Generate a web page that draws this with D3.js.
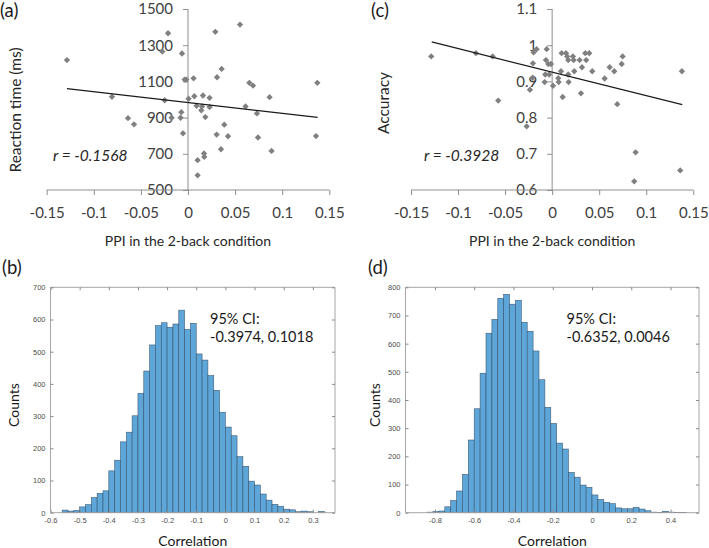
<!DOCTYPE html>
<html><head><meta charset="utf-8">
<script src="https://cdn.jsdelivr.net/npm/d3@7"></script>
<style>
html,body{margin:0;padding:0;background:#fff;}
svg{display:block;}
</style></head>
<body>
<svg id="chart" width="709" height="548"></svg>
<script>
// ---------- DATA ----------
// Panel (a): PPI (2-back) vs reaction time (ms)
const aPPI = [-0.1285,-0.0212,-0.0273,-0.0064,0.0290,0.0552,-0.0807,-0.0637,-0.0573,-0.0248,-0.0174,-0.0079,-0.0071,-0.0053,-0.0036,-0.0018,0.0059,0.0006,0.0067,0.0091,0.0159,0.0141,0.0149,0.0184,0.0229,0.0229,0.0308,0.0357,0.0102,0.0102,0.0170,0.0173,0.0304,0.0385,0.0350,0.0425,0.0611,0.0651,0.0690,0.0732,0.0743,0.0866,0.0887,0.1373,0.1359];
const aRT  = [1218,1366,1265,1254,1374,1414,1015,897,863,996,899,899,930,813,1110,1110,1117,1004,1018,965,1022,940,962,903,1009,958,1123,1169,665,581,702,683,806,861,725,797,962,1092,1077,923,790,1013,716,1092,798];
const aFitX = [-0.1285, 0.1376];
const aFitY = [1060, 901];
const aR = "r = -0.1568";

// Panel (c): PPI (2-back) vs accuracy
const cPPI = [-0.1285,-0.0810,-0.0632,-0.0573,-0.0271,-0.0236,-0.0207,-0.0204,-0.0197,-0.0165,-0.0073,-0.0080,-0.0058,-0.0066,-0.0041,-0.0031,-0.0013,0.0009,0.0065,0.0069,0.0094,0.0101,0.0112,0.0147,0.0160,0.0171,0.0171,0.0175,0.0221,0.0228,0.0235,0.0292,0.0306,0.0317,0.0352,0.0362,0.0394,0.0426,0.0558,0.0611,0.0660,0.0692,0.0739,0.0749,0.0887,0.0872,0.1379,0.1361];
const cAcc = [0.969,0.978,0.969,0.847,0.776,0.877,0.910,0.950,0.980,0.989,0.919,0.898,0.989,0.959,0.948,0.919,0.948,0.888,0.909,0.898,0.928,0.978,0.857,0.978,0.969,0.959,0.919,0.898,0.969,0.959,0.928,0.959,0.867,0.939,0.978,0.959,0.978,0.928,0.908,0.939,0.928,0.837,0.948,0.969,0.704,0.624,0.928,0.654];
const cFitX = [-0.128, 0.1383];
const cFitY = [1.009, 0.836];
const cR = "r = -0.3928";

const scatterXTicks = [-0.15,-0.1,-0.05,0,0.05,0.1,0.15];
const aYTicks = [500,700,900,1100,1300,1500];
const cYTicks = [0.6,0.7,0.8,0.9,1,1.1];

// Panel (b): bootstrap correlation histogram (bin width 0.02 starting at -0.56)
const bBinStart = -0.56, bBinWidth = 0.02;
const bCounts = [8,5,7,18,25,47,60,68,130,163,220,250,301,371,440,521,581,590,576,586,629,569,588,493,474,426,380,312,266,239,174,144,98,86,58,39,26,20,11,9,3,5,3,0,4];
const bXTicks = [-0.6,-0.5,-0.4,-0.3,-0.2,-0.1,0,0.1,0.2,0.3];
const bYTicks = [0,100,200,300,400,500,600,700];
const bCI = ["95% CI:", "-0.3974, 0.1018"];

// Panel (d): bootstrap correlation histogram (bin width 0.03 starting at -0.84)
const dBinStart = -0.84, dBinWidth = 0.03;
const dCounts = [2,4,6,21,43,77,136,258,369,495,637,686,761,775,740,754,676,644,574,472,374,317,247,226,143,126,98,90,63,47,37,32,17,14,14,19,13,7,2,1,5,2,1,1];
const dXTicks = [-0.8,-0.6,-0.4,-0.2,0,0.2,0.4];
const dYTicks = [0,100,200,300,400,500,600,700,800];
const dCI = ["95% CI:", "-0.6352, 0.0046"];

// ---------- DRAW ----------
const svg = d3.select("#chart");
const FONT = "Lato, 'Open Sans', sans-serif";
const MFONT = "'Liberation Sans', Arial, sans-serif";
const fmt = d => (d === 0 ? "0" : String(d));

function scatter(opt){
  const g = svg.append("g");
  const x = d3.scaleLinear().domain([-0.15,0.15]).range(opt.xr);
  const y = d3.scaleLinear().domain(opt.yd).range([190, 9]);
  const x0 = x(0);
  const yAxis = d3.axisLeft(y).tickValues(opt.yTicks).tickSize(5).tickPadding(10).tickFormat(opt.yFmt);
  const ga = g.append("g").attr("transform", `translate(${x0},0)`).call(yAxis);
  ga.select(".domain").attr("stroke","#8f8f8f").attr("d", `M-0,${y(opt.yd[1])}V${y(opt.yd[0])}`);
  ga.selectAll(".tick line").attr("stroke","#8f8f8f");
  ga.selectAll(".tick text").attr("font-family",FONT).attr("font-size",15).attr("fill","#404040");
  const xAxis = d3.axisBottom(x).tickValues(scatterXTicks).tickSize(5).tickPadding(12).tickFormat(fmt);
  const gx = g.append("g").attr("transform", `translate(0,190)`).call(xAxis);
  gx.select(".domain").attr("stroke","#8f8f8f").attr("d", `M${x(-0.15)},0H${x(0.15)}`);
  gx.selectAll(".tick line").attr("stroke","#8f8f8f");
  gx.selectAll(".tick text").attr("font-family",FONT).attr("font-size",15).attr("fill","#404040");
  const sym = d3.symbol().type(d3.symbolSquare).size(20);
  g.append("g").selectAll("path").data(opt.xs.map((v,i)=>[v,opt.ys[i]])).join("path")
    .attr("d", sym)
    .attr("transform", d => `translate(${x(d[0])},${y(d[1])}) rotate(45)`)
    .attr("fill","#808080");
  const line = d3.line().x(d=>x(d[0])).y(d=>y(d[1]));
  g.append("path").datum(opt.fitX.map((v,i)=>[v,opt.fitY[i]]))
    .attr("d", line).attr("fill","none").attr("stroke","#1a1a1a").attr("stroke-width",1.2);
  g.append("text").attr("x", opt.rX).attr("y", 161).attr("font-family",FONT).attr("font-style","italic")
    .attr("font-size",15.5).attr("fill","#262626").text(opt.r);
  g.append("text").attr("transform", `translate(${opt.ytX},${opt.ytY}) rotate(-90)`).attr("text-anchor","middle")
    .attr("font-family",FONT).attr("font-size",15.5).attr("fill","#262626").text(opt.yTitle);
  g.append("text").attr("x", x0).attr("y", 246).attr("text-anchor","middle")
    .attr("font-family",FONT).attr("font-size",14).attr("fill","#262626").text("PPI in the 2-back condition");
  g.append("text").attr("x", opt.pX).attr("y", 17).attr("font-family",FONT).attr("font-size",18.5).attr("fill","#1a1a1a").text(opt.panel);
}

scatter({xr:[46.7,329.3], yd:[500,1500], yTicks:aYTicks, yFmt:d=>String(d), xs:aPPI, ys:aRT,
  fitX:aFitX, fitY:aFitY, r:aR, rX:53, yTitle:"Reaction time (ms)", ytX:21, ytY:110, panel:"(a)", pX:0});
scatter({xr:[411,693.3], yd:[0.6,1.1], yTicks:cYTicks, yFmt:d=>(d===1?"1":String(d)), xs:cPPI, ys:cAcc,
  fitX:cFitX, fitY:cFitY, r:cR, rX:424, yTitle:"Accuracy", ytX:389, ytY:103, panel:"(c)", pX:371});

function hist(opt){
  const g = svg.append("g");
  const x = d3.scaleLinear().domain(opt.xd).range(opt.xr);
  const y = d3.scaleLinear().domain(opt.yd).range([512.7, 287.3]);
  const bins = opt.counts.map((c,i)=>({x0: opt.start + i*opt.w, x1: opt.start + (i+1)*opt.w, c}));
  g.append("g").selectAll("rect").data(bins).join("rect")
    .attr("x", d=>x(d.x0)).attr("width", d=>x(d.x1)-x(d.x0))
    .attr("y", d=>y(d.c)).attr("height", d=>y(0)-y(d.c))
    .attr("fill","#5fa6d8").attr("stroke","#2c4a66").attr("stroke-width",0.6).attr("stroke-opacity",0.85);
  const TL = 3;
  const axisCol = "#a6a6a6";
  const gb = g.append("g").attr("transform",`translate(0,${y.range()[0]})`)
    .call(d3.axisBottom(x).tickValues(opt.xTicks).tickSize(-TL).tickPadding(5).tickFormat(fmt));
  const gt = g.append("g").attr("transform",`translate(0,${y.range()[1]})`)
    .call(d3.axisTop(x).tickValues(opt.xTicks).tickSize(-TL).tickFormat(""));
  const gl = g.append("g").attr("transform",`translate(${x.range()[0]},0)`)
    .call(d3.axisLeft(y).tickValues(opt.yTicks).tickSize(-TL).tickPadding(5));
  const gr = g.append("g").attr("transform",`translate(${x.range()[1]},0)`)
    .call(d3.axisRight(y).tickValues(opt.yTicks).tickSize(-TL).tickFormat(""));
  [gb,gt,gl,gr].forEach(a=>{
    a.select(".domain").attr("stroke",axisCol);
    a.selectAll(".tick line").attr("stroke","#8a8a8a");
    a.selectAll(".tick text").attr("font-family",MFONT).attr("font-size",7.5).attr("fill","#4d4d4d");
  });
  gb.select(".domain").attr("d",`M${x.range()[0]},0H${x.range()[1]}`);
  gt.select(".domain").attr("d",`M${x.range()[0]},0H${x.range()[1]}`);
  gl.select(".domain").attr("d",`M0,${y.range()[0]}V${y.range()[1]}`);
  gr.select(".domain").attr("d",`M0,${y.range()[0]}V${y.range()[1]}`);
  g.append("text").attr("x",opt.ciX).attr("y",323.5).attr("font-family",FONT).attr("font-size",14.5).attr("fill","#1a1a1a").text(opt.ci[0]);
  g.append("text").attr("x",opt.ciX).attr("y",341.5).attr("font-family",FONT).attr("font-size",14.5).attr("fill","#1a1a1a").text(opt.ci[1]);
  g.append("text").attr("x",(x.range()[0]+x.range()[1])/2).attr("y",545.5).attr("text-anchor","middle")
    .attr("font-family",FONT).attr("font-size",14).attr("fill","#1a1a1a").text("Correlation");
  g.append("text").attr("transform",`translate(${opt.cntX},405) rotate(-90)`).attr("text-anchor","middle")
    .attr("font-family",FONT).attr("font-size",14).attr("fill","#1a1a1a").text("Counts");
  g.append("text").attr("x",opt.pX).attr("y",274).attr("font-family",FONT).attr("font-size",18.5).attr("fill","#1a1a1a").text(opt.panel);
}

hist({xd:[-0.6,0.376], xr:[50.5,335], yd:[0,700], start:bBinStart, w:bBinWidth, counts:bCounts,
  xTicks:bXTicks, yTicks:bYTicks, ci:bCI, ciX:210, cntX:19, panel:"(b)", pX:2});
hist({xd:[-0.95,0.545], xr:[405.5,699], yd:[0,800], start:dBinStart, w:dBinWidth, counts:dCounts,
  xTicks:dXTicks, yTicks:dYTicks, ci:dCI, ciX:566.5, cntX:380, panel:"(d)", pX:368});
</script>
</body></html>
